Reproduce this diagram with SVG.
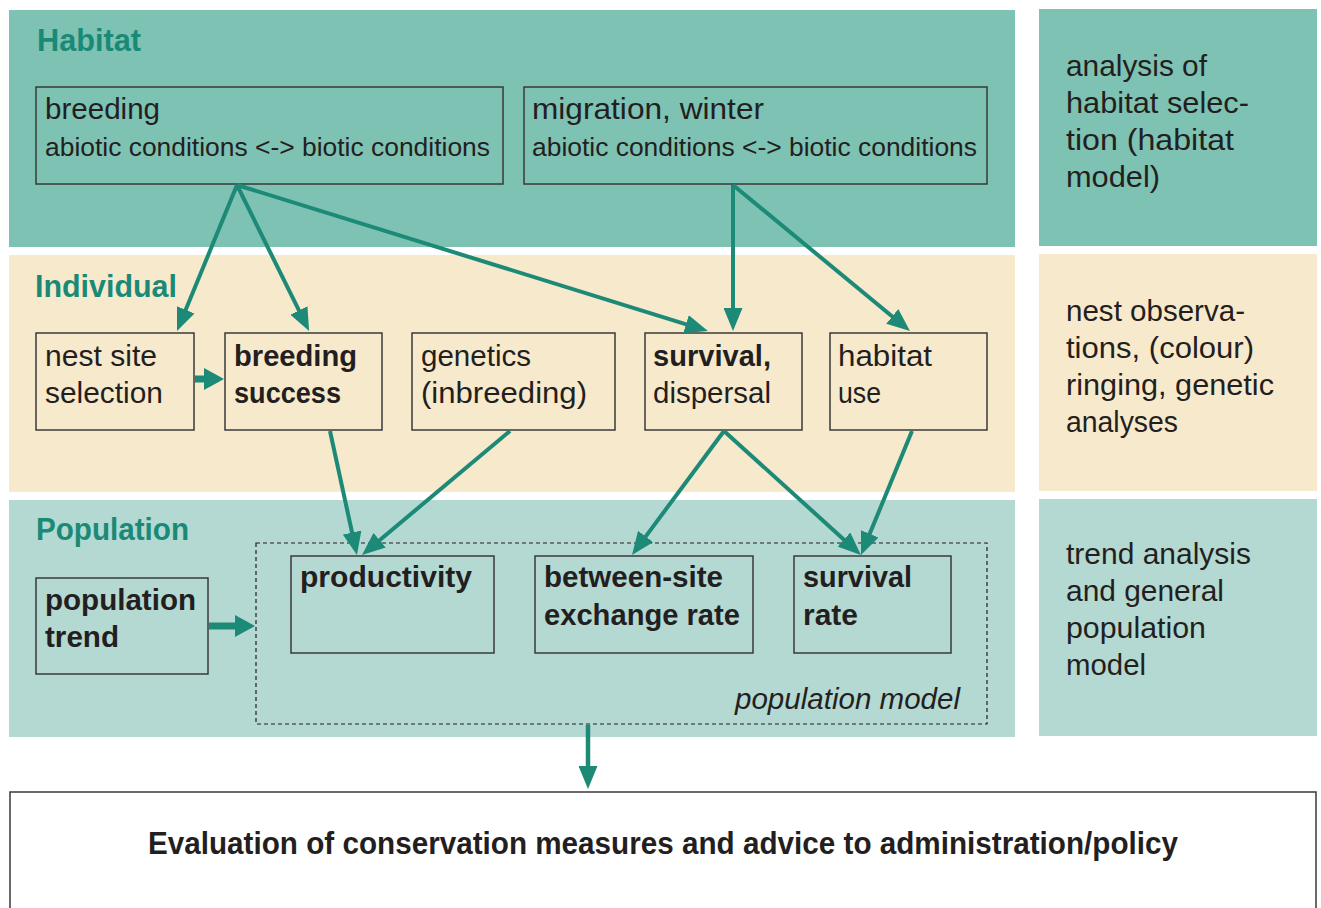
<svg xmlns="http://www.w3.org/2000/svg" width="1321" height="908" viewBox="0 0 1321 908">
<style>
text{font-family:"Liberation Sans",Arial,sans-serif;fill:#231f20}
.h{font-weight:bold;fill:#1a8a77;font-size:32px}
.t{font-size:30px}
.s{font-size:26px}
.b{font-size:30px;font-weight:bold}
.r{font-size:30px}
.box{fill:none;stroke:#3a3a3a;stroke-width:1.5}
.c{stroke:#1c8a76;stroke-width:4;fill:none;marker-end:url(#ah)}
.ct{stroke:#1c8a76;stroke-width:7;fill:none;marker-end:url(#aht)}
</style>
<defs>
<marker id="ah" markerUnits="userSpaceOnUse" markerWidth="23" markerHeight="19" refX="2" refY="9.5" orient="auto"><path d="M0,0 L23,9.5 L0,19 z" fill="#1c8a76"/></marker>
<marker id="aht" markerUnits="userSpaceOnUse" markerWidth="20" markerHeight="22" refX="2" refY="11" orient="auto"><path d="M0,0 L20,11 L0,22 z" fill="#1c8a76"/></marker>
</defs>
<rect width="1321" height="908" fill="#ffffff"/>
<g id="bands">
<rect x="9" y="10" width="1006" height="237" fill="#7dc2b3"/>
<rect x="1039" y="9" width="278" height="237" fill="#7dc2b3"/>
<rect x="9" y="255" width="1006" height="237" fill="#f7e9cc"/>
<rect x="1039" y="254" width="278" height="237" fill="#f7e9cc"/>
<rect x="9" y="500" width="1006" height="237" fill="#b4d8d2"/>
<rect x="1039" y="499" width="278" height="237" fill="#b4d8d2"/>
</g>
<g id="labels">
<text class="h" x="37" y="51" textLength="104" lengthAdjust="spacingAndGlyphs">Habitat</text>
<text class="h" x="35" y="297" textLength="142" lengthAdjust="spacingAndGlyphs">Individual</text>
<text class="h" x="36" y="540" textLength="153" lengthAdjust="spacingAndGlyphs">Population</text>
</g>
<g id="methods-habitat">
<text class="r" x="1066" y="76" textLength="141" lengthAdjust="spacingAndGlyphs">analysis of</text>
<text class="r" x="1066" y="113" textLength="183" lengthAdjust="spacingAndGlyphs">habitat selec-</text>
<text class="r" x="1066" y="150" textLength="168" lengthAdjust="spacingAndGlyphs">tion (habitat</text>
<text class="r" x="1066" y="187" textLength="94" lengthAdjust="spacingAndGlyphs">model)</text>
</g>
<g id="methods-individual">
<text class="r" x="1066" y="321" textLength="179" lengthAdjust="spacingAndGlyphs">nest observa-</text>
<text class="r" x="1066" y="358" textLength="188" lengthAdjust="spacingAndGlyphs">tions, (colour)</text>
<text class="r" x="1066" y="395" textLength="208" lengthAdjust="spacingAndGlyphs">ringing, genetic</text>
<text class="r" x="1066" y="432" textLength="112" lengthAdjust="spacingAndGlyphs">analyses</text>
</g>
<g id="methods-population">
<text class="r" x="1066" y="564" textLength="185" lengthAdjust="spacingAndGlyphs">trend analysis</text>
<text class="r" x="1066" y="601" textLength="158" lengthAdjust="spacingAndGlyphs">and general</text>
<text class="r" x="1066" y="638" textLength="140" lengthAdjust="spacingAndGlyphs">population</text>
<text class="r" x="1066" y="675" textLength="80" lengthAdjust="spacingAndGlyphs">model</text>
</g>
<g id="breeding-habitat">
<rect class="box" x="36" y="87" width="467" height="97"/>
<text class="t" x="45" y="119" textLength="115" lengthAdjust="spacingAndGlyphs">breeding</text>
<text class="s" x="45" y="156" textLength="445" lengthAdjust="spacingAndGlyphs">abiotic conditions &lt;-&gt; biotic conditions</text>
</g>
<g id="migration-habitat">
<rect class="box" x="524" y="87" width="463" height="97"/>
<text class="t" x="532" y="119" textLength="232" lengthAdjust="spacingAndGlyphs">migration, winter</text>
<text class="s" x="532" y="156" textLength="445" lengthAdjust="spacingAndGlyphs">abiotic conditions &lt;-&gt; biotic conditions</text>
</g>
<g id="nest-site">
<rect class="box" x="36" y="333" width="158" height="97"/>
<text class="t" x="45" y="366" textLength="112" lengthAdjust="spacingAndGlyphs">nest site</text>
<text class="t" x="45" y="403" textLength="118" lengthAdjust="spacingAndGlyphs">selection</text>
</g>
<g id="breeding-success">
<rect class="box" x="225" y="333" width="157" height="97"/>
<text class="b" x="234" y="366" textLength="123" lengthAdjust="spacingAndGlyphs">breeding</text>
<text class="b" x="234" y="403" textLength="107" lengthAdjust="spacingAndGlyphs">success</text>
</g>
<g id="genetics">
<rect class="box" x="412" y="333" width="203" height="97"/>
<text class="t" x="421" y="366" textLength="110" lengthAdjust="spacingAndGlyphs">genetics</text>
<text class="t" x="421" y="403" textLength="166" lengthAdjust="spacingAndGlyphs">(inbreeding)</text>
</g>
<g id="survival-dispersal">
<rect class="box" x="645" y="333" width="157" height="97"/>
<text class="b" x="653" y="366" textLength="118" lengthAdjust="spacingAndGlyphs">survival,</text>
<text class="t" x="653" y="403" textLength="118" lengthAdjust="spacingAndGlyphs">dispersal</text>
</g>
<g id="habitat-use">
<rect class="box" x="830" y="333" width="157" height="97"/>
<text class="t" x="838" y="366" textLength="94" lengthAdjust="spacingAndGlyphs">habitat</text>
<text class="t" x="838" y="403" textLength="43" lengthAdjust="spacingAndGlyphs">use</text>
</g>
<g id="population-trend">
<rect class="box" x="36" y="578" width="172" height="96"/>
<text class="b" x="45" y="610" textLength="151" lengthAdjust="spacingAndGlyphs">population</text>
<text class="b" x="45" y="647" textLength="74" lengthAdjust="spacingAndGlyphs">trend</text>
</g>
<g id="population-model">
<rect x="256" y="543" width="731" height="181" fill="none" stroke="#231f20" stroke-width="1.2" stroke-dasharray="4,3"/>
<text x="960" y="709" text-anchor="end" font-style="italic" font-size="29" textLength="225" lengthAdjust="spacingAndGlyphs">population model</text>
</g>
<g id="productivity">
<rect class="box" x="291" y="556" width="203" height="97"/>
<text class="b" x="300" y="587" textLength="172" lengthAdjust="spacingAndGlyphs">productivity</text>
</g>
<g id="exchange-rate">
<rect class="box" x="535" y="556" width="218" height="97"/>
<text class="b" x="544" y="587" textLength="179" lengthAdjust="spacingAndGlyphs">between-site</text>
<text class="b" x="544" y="625" textLength="196" lengthAdjust="spacingAndGlyphs">exchange rate</text>
</g>
<g id="survival-rate">
<rect class="box" x="794" y="556" width="157" height="97"/>
<text class="b" x="803" y="587" textLength="109" lengthAdjust="spacingAndGlyphs">survival</text>
<text class="b" x="803" y="625" textLength="55" lengthAdjust="spacingAndGlyphs">rate</text>
</g>
<g id="evaluation">
<rect x="10" y="792" width="1306" height="140" fill="#ffffff" stroke="#3a3a3a" stroke-width="1.5"/>
<text x="148" y="854" font-size="32" font-weight="bold" textLength="1030" lengthAdjust="spacingAndGlyphs">Evaluation of conservation measures and advice to administration/policy</text>
</g>
<g id="connectors">
<line class="c" x1="237" y1="185" x2="185" y2="311.6"/>
<line class="c" x1="237" y1="185" x2="299.8" y2="312.2"/>
<line class="c" x1="237" y1="185" x2="687.9" y2="324.8"/>
<line class="c" x1="733" y1="185" x2="733" y2="310"/>
<line class="c" x1="733" y1="185" x2="893.8" y2="317.7"/>
<line class="ct" x1="195" y1="379" x2="206" y2="379"/>
<line class="c" x1="330" y1="431" x2="352.5" y2="534.5"/>
<line class="c" x1="510" y1="431" x2="378.1" y2="541.5"/>
<line class="c" x1="724" y1="431" x2="644.5" y2="538.1"/>
<line class="c" x1="724" y1="431" x2="845.4" y2="540.9"/>
<line class="c" x1="912" y1="431" x2="869" y2="535.6"/>
<line class="ct" x1="209" y1="626" x2="237" y2="626"/>
<line class="c" style="stroke-width:4.5" x1="588" y1="725" x2="588" y2="768"/>
</g>
</svg>
